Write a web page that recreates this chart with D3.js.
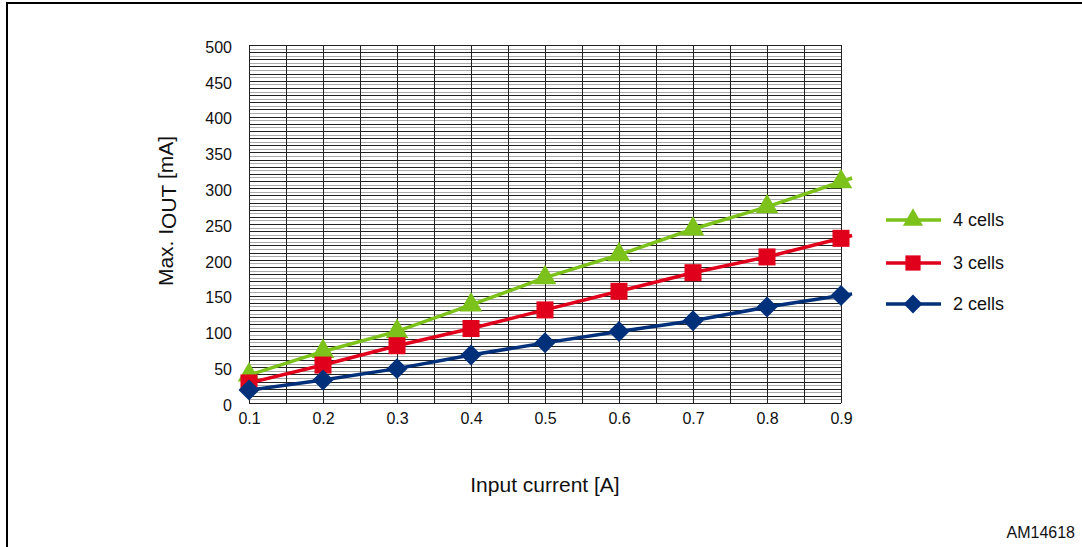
<!DOCTYPE html>
<meta charset="utf-8">
<head>
<style>
  body { margin: 0; background: #fff; }
  text { font-family: "Liberation Sans", Arial, sans-serif; fill: #111; }
  .grid line { shape-rendering: crispEdges; }
</style>
</head>
<body>
<script src="https://d3js.org/d3.v7.min.js"></script>
<script>

// data
var current = [0.1, 0.2, 0.3, 0.4, 0.5, 0.6, 0.7, 0.8, 0.9];
var cells4 = [39, 72, 100, 137, 175, 207, 243, 274, 309];
var cells3 = [28, 53, 80, 104, 130, 156, 182, 204, 230];
var cells2 = [18, 32, 48, 67, 84, 100, 115, 134, 150];
var seriesNames = ["4 cells", "3 cells", "2 cells"];
var yTicks = [0, 50, 100, 150, 200, 250, 300, 350, 400, 450, 500];
var xTicks = [0.1, 0.2, 0.3, 0.4, 0.5, 0.6, 0.7, 0.8, 0.9];

var W = 1082, H = 547;
var margin = {left: 249, top: 45, right: 241, bottom: 144};
var width = W - margin.left - margin.right,
    height = H - margin.top - margin.bottom;

var x = d3.scaleLinear().domain([0.1, 0.9]).range([0, width]);
var y = d3.scaleLinear().domain([0, 500]).range([height, 0]);

var svg = d3.select("body").append("svg")
    .attr("width", W)
    .attr("height", H);

// outer frame
svg.append("rect")
    .attr("x", 7).attr("y", 3)
    .attr("width", W + 10).attr("height", H + 10)
    .attr("fill", "none")
    .attr("stroke", "#000")
    .attr("stroke-width", 2);

var g = svg.append("g")
    .attr("transform", "translate(" + margin.left + "," + margin.top + ")");

// horizontal grid, every 5 mA
var grid = g.append("g").attr("class", "grid");
grid.selectAll("line.h")
  .data(d3.range(0, 501, 5))
  .enter().append("line")
    .attr("class", "h")
    .attr("x1", 0).attr("x2", width)
    .attr("y1", d => Math.round(y(d)) + 0.5)
    .attr("y2", d => Math.round(y(d)) + 0.5)
    .attr("stroke", d => d % 10 === 0 ? "#222" : "#aaa")
    .attr("stroke-width", 1);

// vertical grid, every 0.05 A
grid.selectAll("line.v")
  .data(d3.range(0, 17).map(i => 0.1 + i * 0.05))
  .enter().append("line")
    .attr("class", "v")
    .attr("y1", 0).attr("y2", height)
    .attr("x1", d => Math.round(x(d)) + 0.5)
    .attr("x2", d => Math.round(x(d)) + 0.5)
    .attr("stroke", "#222")
    .attr("stroke-width", 1);

// y tick labels
g.append("g")
    .call(d3.axisLeft(y).tickValues(yTicks).tickSize(0).tickPadding(17))
    .call(a => a.select(".domain").remove())
    .selectAll("text")
    .attr("dy", "0.45em")
    .attr("font-size", 16)
    .attr("font-family", "Liberation Sans, Arial, sans-serif")
    .attr("fill", "#111");

// x tick labels
g.append("g")
    .attr("transform", "translate(0," + height + ")")
    .call(d3.axisBottom(x).tickValues(xTicks).tickSize(0).tickPadding(10).tickFormat(d3.format(".1f")))
    .call(a => a.select(".domain").remove())
    .selectAll("text")
    .attr("font-size", 16)
    .attr("font-family", "Liberation Sans, Arial, sans-serif")
    .attr("fill", "#111");

// axis titles
svg.append("text")
    .attr("x", 545).attr("y", 492)
    .attr("text-anchor", "middle")
    .attr("font-size", 21)
    .text("Input current [A]");

var yt = svg.append("text")
    .attr("transform", "translate(173,211) rotate(-90)")
    .attr("text-anchor", "middle")
    .attr("font-size", 21);
yt.append("tspan").text("Max. I");
yt.append("tspan").attr("dy", 3).text("OUT");
yt.append("tspan").attr("dy", -3).text(" [mA]");

svg.append("text")
    .attr("x", 1075).attr("y", 538)
    .attr("text-anchor", "end")
    .attr("font-size", 16)
    .text("AM14618");

// series
var series = [
  {name: seriesNames[0], values: cells4, color: "#7cc21b", shape: d3.symbolTriangle, size: 220, rot: 0},
  {name: seriesNames[1], values: cells3, color: "#e0001b", shape: d3.symbolSquare, size: 290, rot: 0},
  {name: seriesNames[2], values: cells2, color: "#00307a", shape: d3.symbolSquare, size: 220, rot: 45}
];

var line = d3.line()
    .x(d => x(d[0]))
    .y(d => y(d[1]));

series.forEach(function(s) {
  var pts = current.map((c, i) => [c, s.values[i]]);
  // the plotted line runs a little past the last point
  var n = pts.length;
  var dx = pts[n - 1][0] - pts[n - 2][0], dy = pts[n - 1][1] - pts[n - 2][1];
  var ext = [pts[n - 1][0] + dx * 0.15, pts[n - 1][1] + dy * 0.15];

  g.append("path")
      .datum(pts.concat([ext]))
      .attr("fill", "none")
      .attr("stroke", s.color)
      .attr("stroke-width", 3.5)
      .attr("d", line);

  g.selectAll(null)
    .data(pts)
    .enter().append("path")
      .attr("transform", d => "translate(" + x(d[0]) + "," + y(d[1]) + ") rotate(" + s.rot + ")")
      .attr("d", d3.symbol().type(s.shape).size(s.size))
      .attr("fill", s.color);
});

// legend
var legend = svg.append("g").attr("transform", "translate(886,220)");
series.forEach(function(s, i) {
  var row = legend.append("g").attr("transform", "translate(0," + [0, 43, 84][i] + ")");
  row.append("line")
      .attr("x1", 0).attr("x2", 55)
      .attr("stroke", s.color)
      .attr("stroke-width", 3.5);
  row.append("path")
      .attr("transform", "translate(27,0) rotate(" + s.rot + ")")
      .attr("d", d3.symbol().type(s.shape).size(s.size * 0.8))
      .attr("fill", s.color);
  row.append("text")
      .attr("x", 67).attr("y", 6)
      .attr("font-size", 18)
      .text(s.name);
});

</script>
</body>
